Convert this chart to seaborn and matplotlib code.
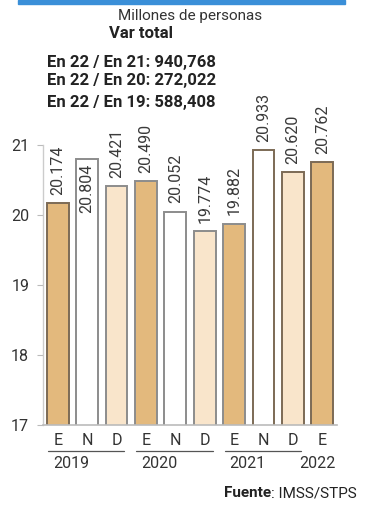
import matplotlib
matplotlib.use("Agg")
import matplotlib.pyplot as plt
from matplotlib import font_manager
import seaborn as sns
import pandas as pd

# Data: formal employment (millions of people)
months = ["E", "N", "D", "E", "N", "D", "E", "N", "D", "E"]
years = ["2019", "2020", "2021", "2022"]
values = [20.174, 20.804, 20.421, 20.490, 20.052, 19.774, 19.882, 20.933, 20.620, 20.762]
yticks = [17, 18, 19, 20, 21]
header_lines = ["En 22 / En 21: 940,768", "En 22 / En 20: 272,022", "En 22 / En 19: 588,408"]

sns.set_theme(style="white")

names = {f.name for f in font_manager.fontManager.ttflist}
narrow = "Liberation Sans Narrow" if "Liberation Sans Narrow" in names else "Roboto"
plt.rcParams["font.family"] = [narrow, "DejaVu Sans"]

df = pd.DataFrame({"pos": [str(i) for i in range(len(values))],
                   "mes": months, "valor": values})

palette = {"E": "#E3B97D", "N": "#FFFFFF", "D": "#F9E5CB"}
edges = {"E": "#7C6A55", "N": "#8C8C8C", "D": "#8C8C8C"}
# bars whose value label sits inside the top of the bar (clear of the header)
inside = {1}

fig = plt.figure(figsize=(3.65, 5.05), dpi=100)
W, H = 365, 505
ax = fig.add_axes([43 / W, 80 / H, 294 / W, 279.6 / H])

sns.barplot(data=df, x="pos", y="valor", hue="mes", palette=palette,
            saturation=1, dodge=False, width=0.74, legend=False, ax=ax)

for patch, m in zip(ax.patches, months):
    patch.set_edgecolor(edges[m])
    patch.set_linewidth(1.4)

for patch in ax.patches:
    i = int(round(patch.get_x() + patch.get_width() / 2))
    v = values[i]
    if i in inside:
        ax.annotate(f"{v:.3f}", (i, patch.get_height()), xytext=(0, -3),
                    textcoords="offset points", rotation=90, ha="center",
                    va="top", fontsize=11.5, color="#3A3A3A")
    else:
        ax.annotate(f"{v:.3f}", (i, patch.get_height()), xytext=(0, 6),
                    textcoords="offset points", rotation=90, ha="center",
                    va="bottom", fontsize=11.5, color="#3A3A3A",
                    annotation_clip=False)

ax.set_ylim(17, 21)
ax.set_xlim(-0.5, len(values) - 0.5)
ax.set_yticks(yticks)
ax.set_yticklabels([str(t) for t in yticks], fontsize=11.5, color="#333333")
ax.tick_params(axis="y", length=4, width=0.8, color="#BBBBBB", pad=6, left=True)
ax.set_xticks([])
ax.set_xlabel("")
ax.set_ylabel("")
for s in ["top", "right"]:
    ax.spines[s].set_visible(False)
ax.spines["left"].set_color("#CCCCCC")
ax.spines["left"].set_linewidth(1.0)
ax.spines["bottom"].set_color("#BBBBBB")
ax.spines["bottom"].set_linewidth(1.2)

trans = ax.get_xaxis_transform()
for i, m in enumerate(months):
    ax.text(i, -0.055, m, transform=trans, ha="center", va="center",
            fontsize=11.5, color="#333333")

groups = [(0, 2), (3, 5), (6, 8)]
for (a, b) in groups:
    ax.plot([a - 0.32, b + 0.27], [-0.093, -0.093], transform=trans,
            color="#555555", lw=0.9, clip_on=False)
year_x = [0.45, 3.45, 6.45, 8.85]
for yx, yr in zip(year_x, years):
    ax.text(yx, -0.137, yr, transform=trans, ha="center", va="center",
            fontsize=11.5, color="#333333")

# Header
fig.patches.append(plt.Rectangle((18 / W, 1 - 4 / H), 327 / W, 4 / H,
                                 transform=fig.transFigure, color="#3A8FD8"))
fig.text(190 / W, 1 - 16 / H, "Millones de personas", ha="center", va="center",
         fontsize=11, color="#333333")
fig.text(141 / W, 1 - 33 / H, "Var total", ha="center", va="center",
         fontsize=12, fontweight="bold", color="#222222")
for yy, line in zip([62, 80, 103], header_lines):
    fig.text(47 / W, 1 - yy / H, line, ha="left", va="center",
             fontsize=12, fontweight="bold", color="#222222")

# Source line: bold label followed by regular text
renderer = fig.canvas.get_renderer()
src = fig.text(224 / W, 1 - 493 / H, "Fuente", ha="left", va="center",
               fontsize=11, fontweight="bold", color="#222222")
bb = src.get_window_extent(renderer=renderer)
fig.text(bb.x1 / W, 1 - 493 / H, ": IMSS/STPS", ha="left", va="center",
         fontsize=11, color="#222222")

fig.savefig("out.png", dpi=100)
